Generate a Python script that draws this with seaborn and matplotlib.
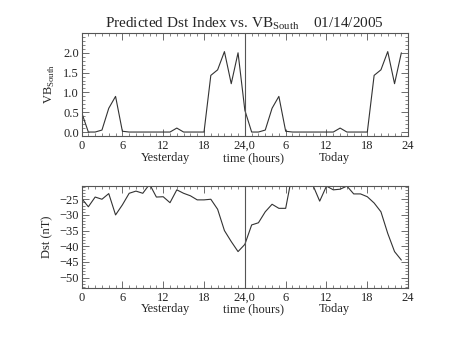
import numpy as np
import pandas as pd
import matplotlib
matplotlib.use("Agg")
import matplotlib.pyplot as plt
import seaborn as sns
from matplotlib.ticker import MultipleLocator
from matplotlib.transforms import blended_transform_factory

sns.set_style("ticks")
plt.rcParams['font.family'] = ['Liberation Serif', 'DejaVu Serif']
plt.rcParams['mathtext.fontset'] = 'custom'
plt.rcParams['mathtext.rm'] = 'Liberation Serif'

# Hours spanning yesterday (0-23) and today (24-47)
hours = list(range(48))
vb_south = [0.5, 0.0, 0.0, 0.05, 0.6, 0.9, 0.02, 0.0, 0.0, 0.0, 0.0, 0.0,
            0.0, 0.0, 0.1, 0.0, 0.0, 0.0, 0.0, 1.43, 1.57, 2.03, 1.22, 2.0,
            0.55, 0.0, 0.0, 0.05, 0.6, 0.9, 0.02, 0.0, 0.0, 0.0, 0.0, 0.0,
            0.0, 0.0, 0.1, 0.0, 0.0, 0.0, 0.0, 1.43, 1.57, 2.03, 1.22, 2.0]
dst = [-24.7, -27.4, -24.3, -25.0, -23.2, -30.0, -26.8, -23.1, -22.4, -23.1, -20.2, -24.3,
       -24.2, -26.1, -22.0, -23.1, -23.9, -25.2, -25.2, -25.0, -28.2, -35.0, -38.5, -41.7,
       -39.4, -33.2, -32.5, -29.0, -26.6, -27.9, -27.9, -16.6, -15.0, -17.0, -20.5, -25.6,
       -20.8, -22.0, -21.8, -20.8, -23.3, -23.3, -24.2, -26.2, -29.0, -35.9, -41.7, -44.4]

xtick_pos = [0, 6, 12, 18, 24, 30, 36, 42, 48]
xtick_labels = ["0", "6", "12", "18", "24,0", "6", "12", "18", "24"]
vb_ticks = [0.0, 0.5, 1.0, 1.5, 2.0]
dst_ticks = [-25, -30, -35, -40, -45, -50]
day_labels = ["Yesterday", "time (hours)", "Today"]
day_label_pos = [12.4, 25.2, 37.1]

df = pd.DataFrame({"hour": hours, "vb": vb_south, "dst": dst})

fig = plt.figure(figsize=(4.53, 3.40), dpi=100)
ax1 = fig.add_axes([0.180, 0.600, 0.721, 0.303])
ax2 = fig.add_axes([0.180, 0.154, 0.721, 0.300])

line_color = "#333333"
axis_color = "#555555"

sns.lineplot(data=df, x="hour", y="vb", ax=ax1, color=line_color, lw=0.8)
sns.lineplot(data=df, x="hour", y="dst", ax=ax2, color=line_color, lw=0.8)

ax1.set_ylim(-0.1, 2.5)
ax2.set_ylim(-53.2, -20.66)
ax1.set_yticks(vb_ticks)
ax1.yaxis.set_minor_locator(MultipleLocator(0.1))
ax1.yaxis.set_major_formatter(matplotlib.ticker.FormatStrFormatter("%.1f"))
ax2.set_yticks(dst_ticks)
ax2.yaxis.set_minor_locator(MultipleLocator(1))

for ax in (ax1, ax2):
    ax.set_xlim(0, 48)
    ax.set_xticks(xtick_pos)
    ax.set_xticklabels(xtick_labels)
    ax.xaxis.set_minor_locator(MultipleLocator(1))
    ax.axvline(24, color=axis_color, lw=0.8)
    ax.tick_params(which="both", direction="in", top=True, right=True,
                   color=axis_color, labelsize=9)
    ax.tick_params(axis="x", pad=3)
    ax.tick_params(axis="y", pad=2)
    ax.tick_params(which="major", length=5, width=0.6)
    ax.tick_params(which="minor", length=2.5, width=0.5)
    for s in ax.spines.values():
        s.set_color(axis_color)
        s.set_linewidth(0.8)
    ax.set_xlabel("")
    trans = blended_transform_factory(ax.transData, ax.transAxes)
    for lab, xp in zip(day_labels, day_label_pos):
        ax.text(xp, -0.155, lab, transform=trans, ha="center", va="top", fontsize=9)

ax1.set_ylabel(r"VB$_{\rm South}$", fontsize=9, labelpad=4)
ax2.set_ylabel("Dst (nT)", fontsize=9, labelpad=4)
ax1.set_title(r"Predicted Dst Index vs. VB$_{\rm South}$    01/14/2005", fontsize=11, pad=4)

fig.savefig("out.png", dpi=100)
